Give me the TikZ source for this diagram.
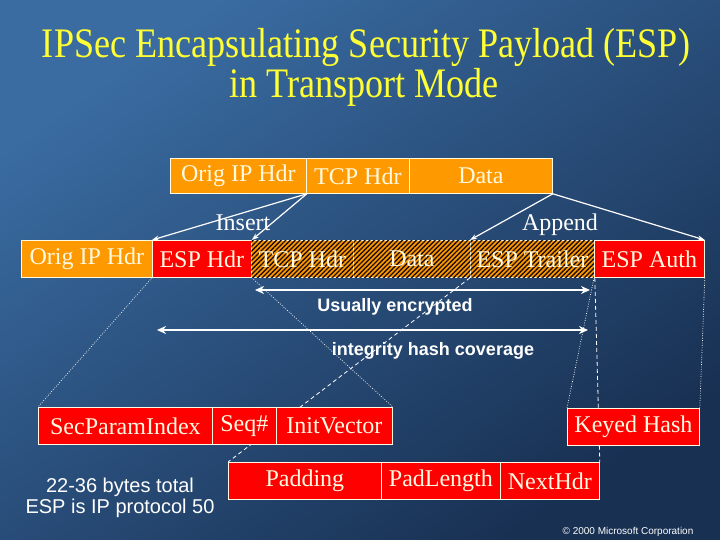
\documentclass[tikz,border=0pt]{standalone}
\usepackage{fontspec}
\setmainfont{Liberation Serif}
\setsansfont{Liberation Sans}
\newfontfamily\titlefont[FakeStretch=0.86]{Liberation Serif}
\usetikzlibrary{arrows.meta,patterns.meta}
\definecolor{bgA}{RGB}{58,108,162}
\definecolor{bgB}{RGB}{24,48,82}
\definecolor{orng}{RGB}{255,153,0}
\definecolor{redbox}{RGB}{255,0,0}
\definecolor{cream}{RGB}{255,250,225}
\definecolor{ttl}{RGB}{255,255,51}
\definecolor{stripe}{RGB}{30,15,10}
\pgfdeclarelayer{bglayer}
\pgfdeclarelayer{linelayer}
\pgfsetlayers{bglayer,linelayer,main}
\begin{document}
\begin{tikzpicture}[x=1pt,y=-1pt,
  pbox/.style={draw=cream, line width=0.8pt, anchor=north west, inner sep=0pt, text=cream, font=\fontsize{24}{26}\selectfont},
  obox/.style={pbox, fill=orng},
  rbox/.style={pbox, fill=redbox},
  hbox/.style={pbox, fill=orng, postaction={pattern={Lines[angle=45,distance=3.3pt,line width=1.4pt]}, pattern color=stripe}},
  titletext/.style={anchor=base, text=ttl, font=\titlefont\fontsize{42}{46}\selectfont, inner sep=0pt},
  serlabel/.style={anchor=base, text=white, font=\fontsize{24}{26}\selectfont, inner sep=0pt},
  sanslabel/.style={anchor=base, text=white, font=\sffamily\bfseries\fontsize{18}{20}\selectfont, inner sep=0pt},
  notetext/.style={anchor=base, text=white, font=\sffamily\fontsize{20}{22}\selectfont, inner sep=0pt},
  thinarrow/.style={draw=white, line width=1.2pt, -{Stealth[length=7pt,width=5pt]}},
  dblarrow/.style={draw=white, line width=2pt, {Stealth[length=9pt,width=8pt]}-{Stealth[length=9pt,width=8pt]}},
  dotline/.style={draw=white, line width=0.7pt, dash pattern=on 0.8pt off 1.6pt},
  dashline/.style={draw=white, line width=0.8pt, dash pattern=on 4pt off 3pt}
]
\useasboundingbox (0,0) rectangle (720,540);
\begin{pgfonlayer}{bglayer}
\shade[top color=bgA, bottom color=bgB, shading angle=35] (0,0) rectangle (720,540);
\end{pgfonlayer}

% title
\node[titletext] (title1) at (366,58) {IPSec Encapsulating Security Payload (ESP)};
\node[titletext] (title2) at (364,98) {in Transport Mode};

% original packet
\node[obox, minimum width=136pt, minimum height=35pt] (o1) at (170,158) {Orig IP Hdr};
\node[obox, minimum width=103pt, minimum height=35pt] (tcp1) at (306,158) {TCP Hdr};
\node[obox, minimum width=143pt, minimum height=35pt] (d1) at (409,158) {Data};

% ESP packet
\node[obox, minimum width=131pt, minimum height=37pt] (o2) at (21,240) {Orig IP Hdr};
\node[rbox, minimum width=99pt, minimum height=37pt] (esph) at (152,240) {ESP Hdr};
\node[hbox, minimum width=102pt, minimum height=37pt] (tcp2) at (251,240) {TCP Hdr};
\node[hbox, minimum width=117pt, minimum height=37pt] (d2) at (353,240) {Data};
\node[hbox, minimum width=124pt, minimum height=37pt] (trl) at (470,240) {ESP Trailer};
\node[rbox, minimum width=110pt, minimum height=37pt] (auth) at (594,240) {ESP Auth};

% detail boxes
\node[rbox, minimum width=174pt, minimum height=37pt] (spi) at (38,407) {SecParamIndex};
\node[rbox, minimum width=64pt, minimum height=37pt] (seq) at (212,407) {Seq\#};
\node[rbox, minimum width=116pt, minimum height=37pt] (iv) at (276,407) {InitVector};
\node[rbox, minimum width=132pt, minimum height=37pt] (kh) at (567,408) {Keyed Hash};
\node[rbox, minimum width=153pt, minimum height=37pt] (pad) at (228,462) {Padding};
\node[rbox, minimum width=119pt, minimum height=37pt] (plen) at (381,462) {PadLength};
\node[rbox, minimum width=99pt, minimum height=37pt] (nh) at (500,462) {NextHdr};

% labels
\node[serlabel] (ins) at (243,230) {Insert};
\node[serlabel] (app) at (560,230) {Append};
\node[sanslabel] (ue) at (395,311) {Usually encrypted};
\node[sanslabel] (ihc) at (433,355) {integrity hash coverage};
\node[notetext] (bt1) at (120,492) {22-36 bytes total};
\node[notetext] (bt2) at (120,513) {ESP is IP protocol 50};
\node[anchor=base, text=white, font=\sffamily\fontsize{10}{12}\selectfont, inner sep=0pt] (copy) at (628,534) {© 2000 Microsoft Corporation};

% insert / append arrows
\draw[thinarrow] (o1.south east) -- (esph.north west);
\draw[thinarrow] (o1.south east) -- (esph.north east);
\draw[thinarrow] (d1.south east) -- (trl.north west);
\draw[thinarrow] (d1.south east) -- (auth.north east);

% coverage arrows
\coordinate (ueL) at (255,290);
\coordinate (ueR) at (590,290);
\coordinate (ihL) at (157,330);
\coordinate (ihR) at (588,330);
\draw[dblarrow] (ueL) -- (ueR);
\draw[dblarrow] (ihL) -- (ihR);

% expansion lines
\begin{pgfonlayer}{linelayer}
\draw[dotline] (esph.south west) -- (spi.north west);
\draw[dotline] (esph.south east) -- (iv.north east);
\draw[dashline] (trl.south west) -- (pad.north west);
\draw[dashline] (trl.south east) -- (nh.north east);
\draw[dotline] (auth.south west) -- (kh.north west);
\draw[dotline] (auth.south east) -- (kh.north east);
\end{pgfonlayer}
\end{tikzpicture}
\end{document}
